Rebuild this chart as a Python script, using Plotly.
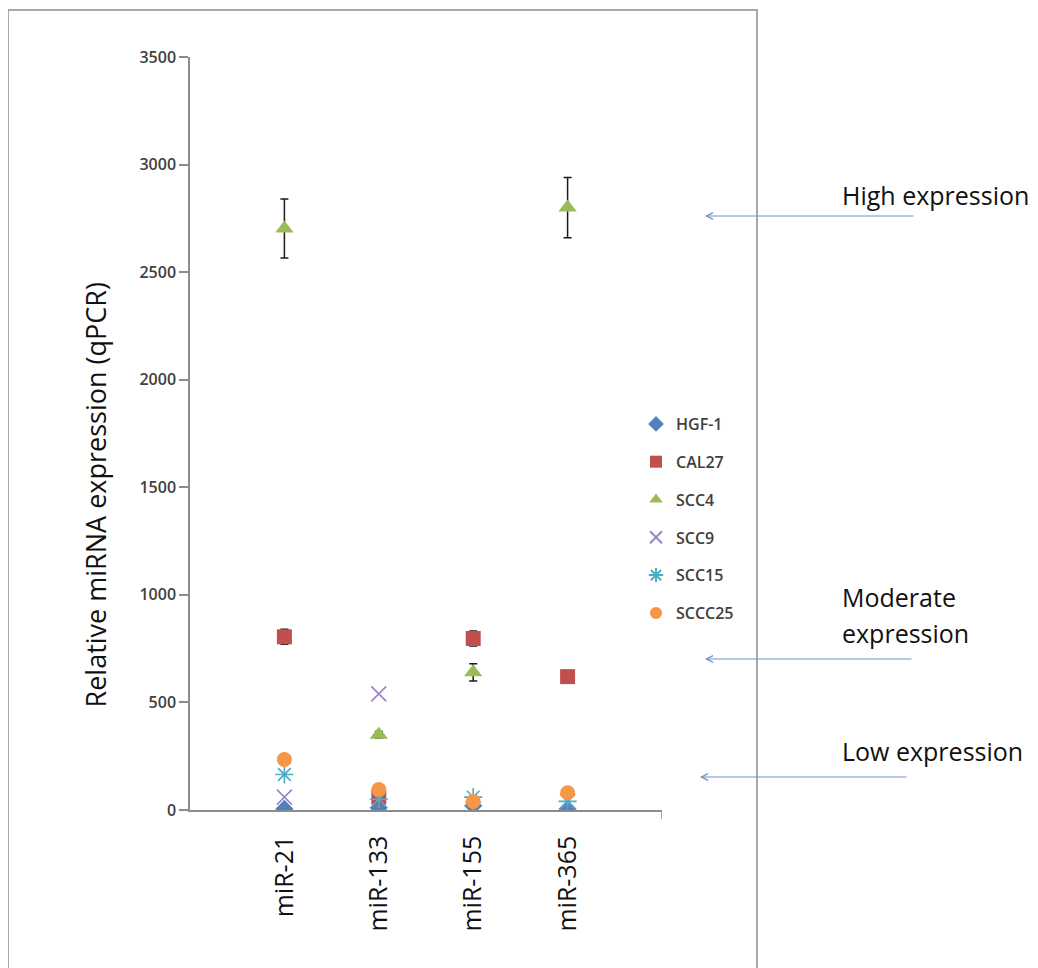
import plotly.graph_objects as go

categories = ["miR-21", "miR-133", "miR-155", "miR-365"]
x_pos = [1, 2, 3, 4]

series_names = ["HGF-1", "CAL27", "SCC4", "SCC9", "SCC15", "SCCC25"]
hgf1 = [5, 10, 20, 5]
cal27 = [805, 60, 797, 620]
cal27_err = [35, 10, 35, 0]
scc4 = [2703, 350, 640, 2800]
scc4_err = [137, 15, 40, 140]
scc9 = [60, 540, 5, 40]
scc15 = [165, 50, 60, 40]
sccc25 = [235, 95, 40, 80]

y_ticks = [0, 500, 1000, 1500, 2000, 2500, 3000, 3500]

OFF = 8  # browser body margin
W, H = 1038 - OFF, 968 - OFF
# plot area in page pixels
L, R, T, B = 190, 662, 57, 810
pw, ph = R - L, B - T


def px(x):
    return (x - L) / pw


def py(y):
    return (B - y) / ph


FONT = "Open Sans"

fig = go.Figure()

styles = [
    dict(name="HGF-1", y=hgf1, err=None, symbol="diamond", color="#4F81BD", size=14, line=None),
    dict(name="CAL27", y=cal27, err=cal27_err, symbol="square", color="#C0504D", size=15, line=None),
    dict(name="SCC4", y=scc4, err=scc4_err, symbol="triangle-up", color="#9BBB59", size=16, line=None),
    dict(name="SCC9", y=scc9, err=None, symbol="x-thin-open", color="#9A85C4", size=15, line=1.6),
    dict(name="SCC15", y=scc15, err=None, symbol="asterisk-open", color="#4BACC6", size=15, line=1.6),
    dict(name="SCCC25", y=sccc25, err=None, symbol="circle", color="#F79646", size=15, line=None),
]

for s in styles:
    marker = dict(symbol=s["symbol"], color=s["color"], size=s["size"])
    if s["line"]:
        marker["line"] = dict(color=s["color"], width=s["line"])
    else:
        marker["line"] = dict(width=0)
    kw = {}
    if s["err"] is not None:
        kw["error_y"] = dict(type="data", array=s["err"], visible=True,
                             color="#1a1a1a", thickness=1.5, width=4)
    fig.add_trace(go.Scatter(
        x=x_pos, y=s["y"], mode="markers", name=s["name"],
        marker=marker, legendgroup=s["name"], **kw))

fig.update_layout(
    width=W, height=H,
    margin=dict(l=L - OFF, r=W - (R - OFF), t=T - OFF, b=H - (B - OFF), pad=0),
    paper_bgcolor="white", plot_bgcolor="white",
    font=dict(family=FONT, color="#222222"),
    showlegend=True,
    legend=dict(
        x=px(636), y=py(407), xanchor="left", yanchor="top",
        font=dict(family=FONT, size=16, color="#404040", weight=600),
        itemsizing="constant", tracegroupgap=14,
        bgcolor="rgba(0,0,0,0)",
    ),
    xaxis=dict(
        range=[0, 5], showgrid=False, zeroline=False,
        tickvals=x_pos, ticktext=categories, tickangle=-90,
        ticks="outside", ticklen=14, tickcolor="rgba(0,0,0,0)",
        tickfont=dict(family=FONT, size=25, color="#111111"),
        showline=True, linecolor="#8c8c8c", linewidth=1.5,
    ),
    yaxis=dict(
        range=[0, 3500], showgrid=False, zeroline=False,
        tickvals=y_ticks, ticks="outside", ticklen=9, tickcolor="#8c8c8c",
        tickwidth=1.5,
        tickfont=dict(family=FONT, size=16, color="#404040", weight=600),
        showline=True, linecolor="#8c8c8c", linewidth=1.5,
    ),
)

# outer frame
fig.add_shape(type="rect", xref="paper", yref="paper",
              x0=px(8), x1=px(757), y0=py(970), y1=py(10),
              line=dict(color="#8c8c8c", width=1.5), layer="below")
# right-end tick on x axis
fig.add_shape(type="line", xref="x", yref="paper", x0=5, x1=5, y0=0, y1=-9 / ph,
              line=dict(color="#8c8c8c", width=1.5))

# y-axis title
fig.add_annotation(xref="paper", yref="paper", x=px(75), y=py(495),
                   text="Relative miRNA expression (qPCR)", textangle=-90,
                   showarrow=False, font=dict(family=FONT, size=27, color="#111111"))

# expression labels
labels = [
    ("High expression", 840, 195),
    ("Moderate", 840, 597),
    ("expression", 840, 633),
    ("Low expression", 840, 751),
]
for t, x, y in labels:
    fig.add_annotation(xref="paper", yref="paper", x=px(x), y=py(y), text=t,
                       showarrow=False, xanchor="left", yanchor="middle",
                       font=dict(family=FONT, size=25, color="#111111"))

arrows = [(705, 915, 216), (705, 913, 659), (700, 908, 777)]
for hx, tx, y in arrows:
    fig.add_annotation(xref="paper", yref="paper", x=px(hx), y=py(y), text="",
                       showarrow=True, axref="pixel", ayref="pixel",
                       ax=tx - hx, ay=0, arrowhead=5, arrowsize=1.3,
                       arrowwidth=1, arrowcolor="#6F93C9")

fig.write_html("out.html")
